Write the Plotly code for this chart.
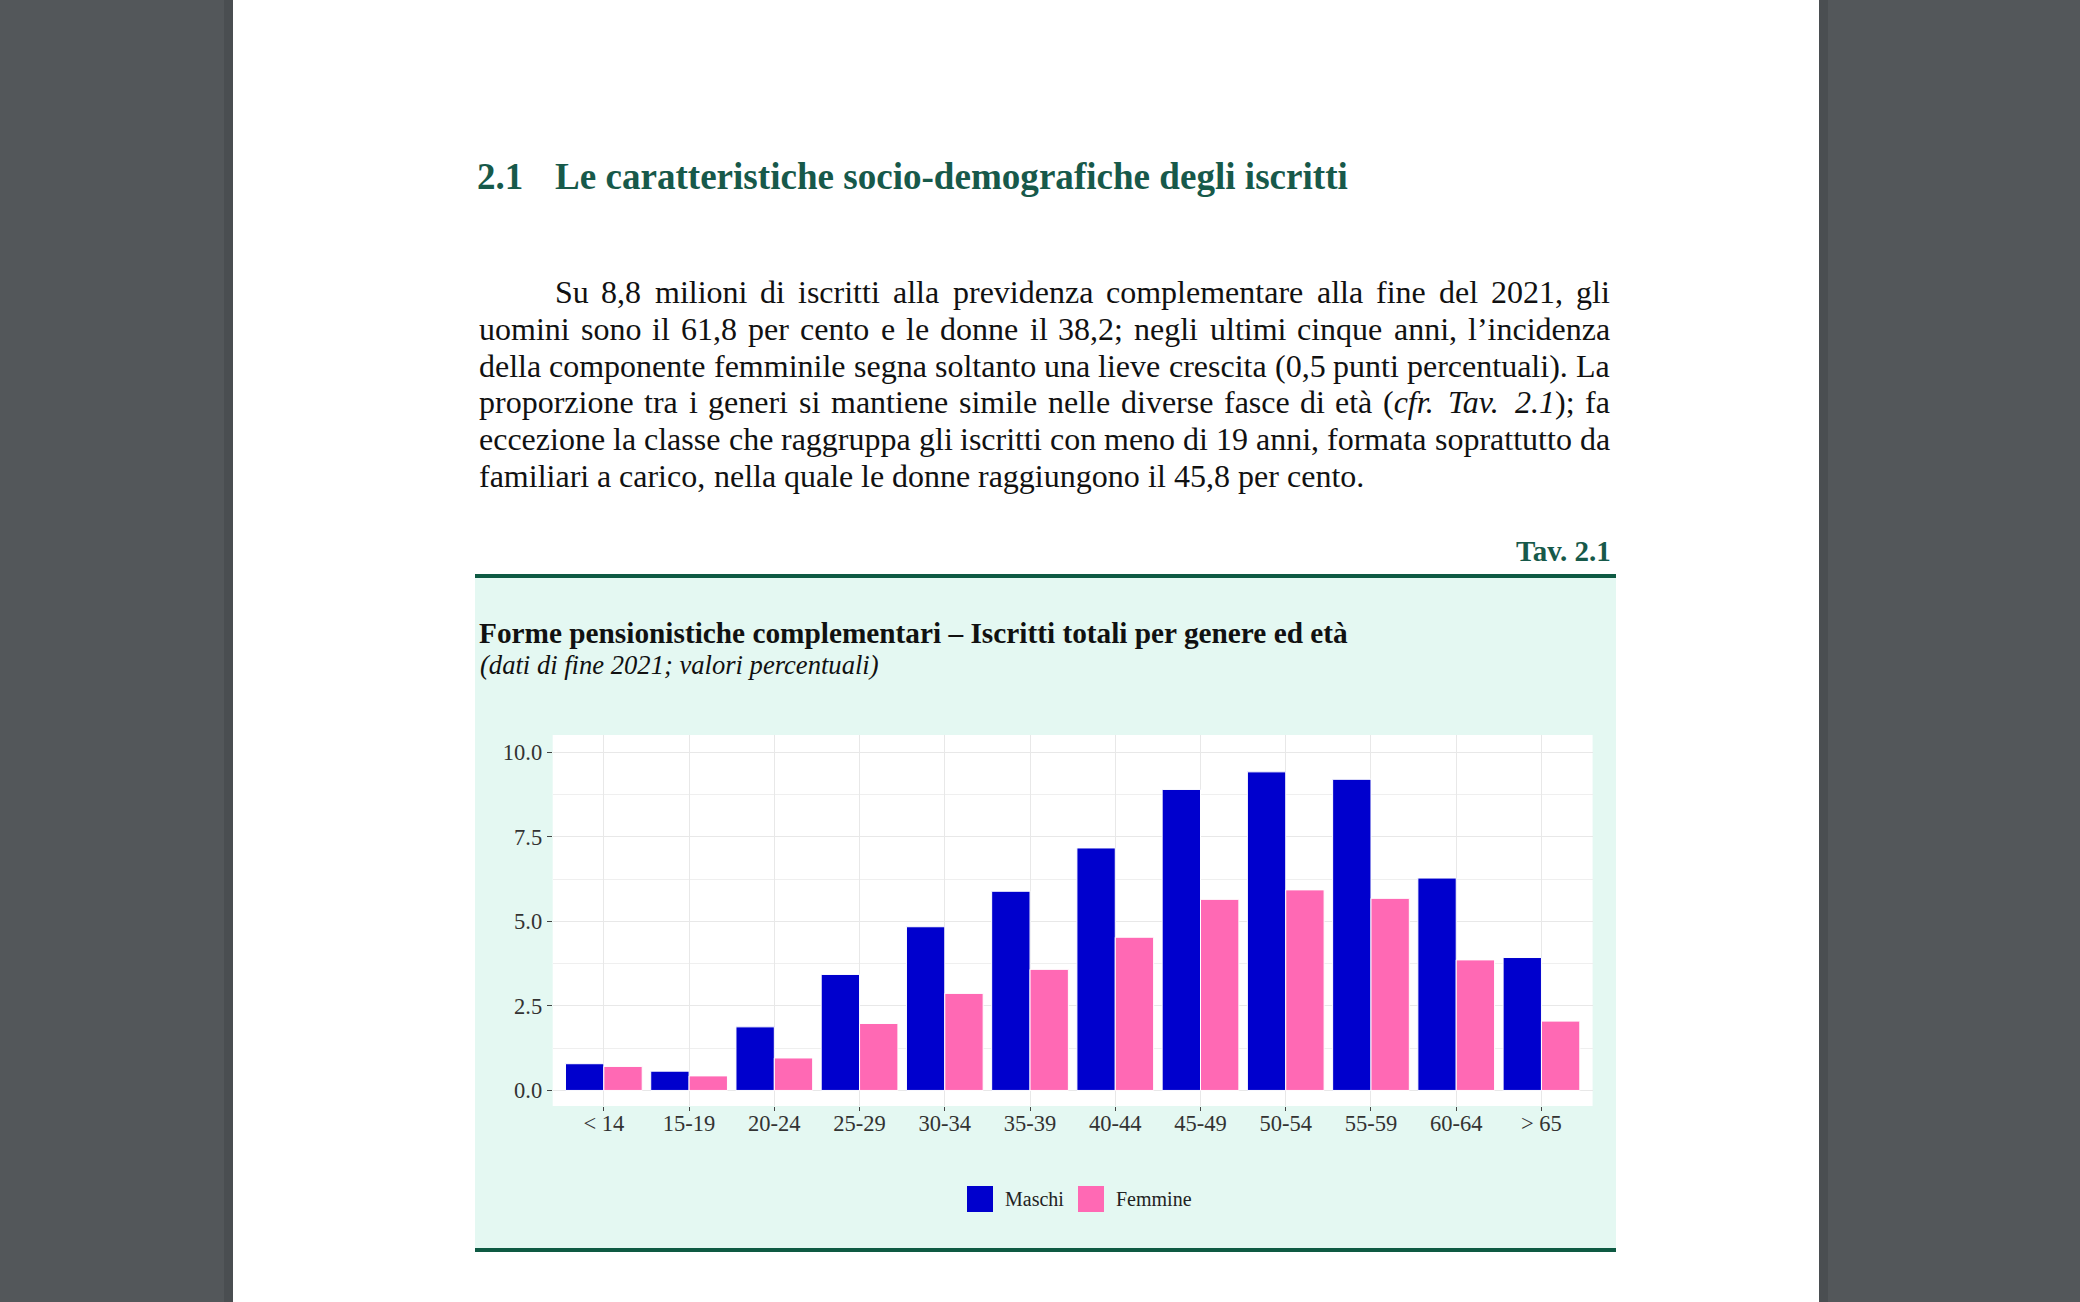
import plotly.graph_objects as go

# ---------------- data ----------------
categories = ["< 14", "15-19", "20-24", "25-29", "30-34", "35-39",
              "40-44", "45-49", "50-54", "55-59", "60-64", "> 65"]
maschi = [0.79, 0.57, 1.88, 3.43, 4.84, 5.89, 7.17, 8.90, 9.42, 9.20, 6.28, 3.93]
femmine = [0.71, 0.43, 0.96, 1.98, 2.87, 3.58, 4.53, 5.65, 5.93, 5.68, 3.86, 2.05]
series_names = ["Maschi", "Femmine"]
y_tick_vals = [0, 2.5, 5, 7.5, 10]
y_tick_text = ["0.0", "2.5", "5.0", "7.5", "10.0"]

heading_num = "2.1"
heading_text = "Le caratteristiche socio-demografiche degli iscritti"
paragraph_lines = [
    "Su 8,8 milioni di iscritti alla previdenza complementare alla fine del 2021, gli",
    "uomini sono il 61,8 per cento e le donne il 38,2; negli ultimi cinque anni, l’incidenza",
    "della componente femminile segna soltanto una lieve crescita (0,5 punti percentuali). La",
    "proporzione tra i generi si mantiene simile nelle diverse fasce di età (<i>cfr.</i> <i>Tav.</i> <i>2.1</i>); fa",
    "eccezione la classe che raggruppa gli iscritti con meno di 19 anni, formata soprattutto da",
    "familiari a carico, nella quale le donne raggiungono il 45,8 per cento.",
]
table_label = "Tav. 2.1"
chart_title = "Forme pensionistiche complementari – Iscritti totali per genere ed età"
chart_subtitle = "(dati di fine 2021; valori percentuali)"

# ---------------- styles ----------------
W, H = 2080, 1302
GRAY_BG = "#53575A"
DARK_GREEN = "#0E5A43"
HEAD_GREEN = "#17594A"
MINT = "#E4F8F2"
BLUE = "#0000CD"
PINK = "#FF69B4"
SERIF = "Liberation Serif"
TXT = "#111111"
AX_TXT = "#333333"


def X(p):
    return p / W


def Y(p):
    return 1 - p / H


# Times-compatible advance widths (per 1000 em)
REG = {" ": 250, "!": 333, "(": 333, ")": 333, ",": 250, "-": 333, ".": 250,
       ":": 278, ";": 278, "’": 333, "–": 500, "<": 564, ">": 564,
       "A": 722, "B": 667, "C": 667, "D": 722, "E": 611, "F": 556, "G": 722,
       "H": 722, "I": 333, "J": 389, "K": 722, "L": 611, "M": 889, "N": 722,
       "O": 722, "P": 556, "Q": 722, "R": 667, "S": 556, "T": 611, "U": 722,
       "V": 722, "W": 944, "X": 722, "Y": 722, "Z": 611,
       "a": 444, "b": 500, "c": 444, "d": 500, "e": 444, "f": 333, "g": 500,
       "h": 500, "i": 278, "j": 278, "k": 500, "l": 278, "m": 778, "n": 500,
       "o": 500, "p": 500, "q": 500, "r": 333, "s": 389, "t": 278, "u": 500,
       "v": 500, "w": 722, "x": 500, "y": 500, "z": 444,
       "à": 444, "è": 444, "é": 444, "ì": 278, "ò": 500, "ù": 500}
for d in "0123456789":
    REG[d] = 500
ITA = dict(REG)
ITA.update({"a": 500, "c": 444, "f": 278, "r": 389, "v": 444, "m": 722,
            "T": 556, ";": 333})


def text_width(s, size):
    w, italic, i = 0, False, 0
    while i < len(s):
        if s.startswith("<i>", i):
            italic = True
            i += 3
            continue
        if s.startswith("</i>", i):
            italic = False
            i += 4
            continue
        tab = ITA if italic else REG
        w += tab.get(s[i], 500)
        i += 1
    return w * size / 1000.0


fig = go.Figure()
fig.add_trace(go.Bar(x=categories, y=maschi, name=series_names[0],
                     marker=dict(color=BLUE, line=dict(color="white", width=1)),
                     showlegend=False))
fig.add_trace(go.Bar(x=categories, y=femmine, name=series_names[1],
                     marker=dict(color=PINK, line=dict(color="white", width=1)),
                     showlegend=False))

shapes = []
# page
shapes.append(dict(type="rect", xref="paper", yref="paper", x0=X(224), x1=X(233), y0=0, y1=1,
                   fillcolor="#4A4E51", line=dict(width=0), layer="below"))
shapes.append(dict(type="rect", xref="paper", yref="paper", x0=X(1819), x1=X(1828), y0=0, y1=1,
                   fillcolor="#4A4E51", line=dict(width=0), layer="below"))
shapes.append(dict(type="rect", xref="paper", yref="paper", x0=X(233), x1=X(1819), y0=0, y1=1,
                   fillcolor="white", line=dict(width=0), layer="below"))
# table box
shapes.append(dict(type="rect", xref="paper", yref="paper", x0=X(475), x1=X(1616), y0=Y(1248), y1=Y(578),
                   fillcolor=MINT, line=dict(width=0), layer="below"))
shapes.append(dict(type="rect", xref="paper", yref="paper", x0=X(475), x1=X(1616), y0=Y(578), y1=Y(574),
                   fillcolor=DARK_GREEN, line=dict(width=0), layer="below"))
shapes.append(dict(type="rect", xref="paper", yref="paper", x0=X(475), x1=X(1616), y0=Y(1252), y1=Y(1248),
                   fillcolor=DARK_GREEN, line=dict(width=0), layer="below"))
# plot panel
PX0, PX1, PY0, PY1 = 552.7, 1592.6, 735, 1106
shapes.append(dict(type="rect", xref="paper", yref="paper", x0=X(PX0), x1=X(PX1), y0=Y(PY1), y1=Y(PY0),
                   fillcolor="white", line=dict(width=0), layer="below"))
# legend keys
shapes.append(dict(type="rect", xref="paper", yref="paper", x0=X(967), x1=X(993), y0=Y(1212), y1=Y(1186),
                   fillcolor=BLUE, line=dict(width=0), layer="below"))
shapes.append(dict(type="rect", xref="paper", yref="paper", x0=X(1078), x1=X(1104), y0=Y(1212), y1=Y(1186),
                   fillcolor=PINK, line=dict(width=0), layer="below"))

ann = []
PAD = 2  # annotation box padding compensation


def add_text(x, y, text, size, color=TXT, xanchor="left", bold=False, italic=False):
    t = text
    if bold:
        t = "<b>" + t + "</b>"
    if italic:
        t = "<i>" + t + "</i>"
    xx = x - PAD if xanchor == "left" else x
    ann.append(dict(x=X(xx), y=Y(y), xref="paper", yref="paper", text=t, showarrow=False,
                    xanchor=xanchor, yanchor="middle",
                    font=dict(family=SERIF, size=size, color=color)))


# heading
add_text(477, 176, heading_num, 37, HEAD_GREEN, bold=True)
add_text(554.5, 176, heading_text, 37.1, HEAD_GREEN, bold=True)

# justified paragraph
FS = 32
LEFT, RIGHT, INDENT = 479, 1610, 554.5
line_y = [292, 329, 366, 402.5, 439, 476]
for li, line in enumerate(paragraph_lines):
    words = line.split(" ")
    x0 = INDENT if li == 0 else LEFT
    widths = [text_width(w, FS) for w in words]
    if li < len(paragraph_lines) - 1:
        gap = (RIGHT - x0 - sum(widths)) / (len(words) - 1)
    else:
        gap = 0.25 * FS
    xc = x0
    for w, wd in zip(words, widths):
        add_text(xc, line_y[li], w, FS, TXT)
        xc += wd + gap

add_text(1613, 550.5, table_label, 29, HEAD_GREEN, xanchor="right", bold=True)
add_text(479, 633, chart_title, 29.3, TXT, bold=True)
add_text(480, 665, chart_subtitle, 26.6, TXT, italic=True)

# legend labels
add_text(1005, 1199, series_names[0], 20, "#222222")
add_text(1116, 1199, series_names[1], 20, "#222222")

fig.update_layout(
    width=W, height=H,
    margin=dict(l=0, r=0, t=0, b=0),
    paper_bgcolor=GRAY_BG,
    plot_bgcolor="white",
    barmode="group", bargap=0.1, bargroupgap=0,
    showlegend=False,
    shapes=shapes,
    annotations=ann,
    xaxis=dict(domain=[X(PX0), X(PX1)], type="category", range=[-0.6, 11.6],
               showgrid=True, gridcolor="#E8E8E8", gridwidth=1.3,
               ticks="outside", ticklen=4, tickwidth=1, tickcolor="#444444",
               ticklabelstandoff=-7,
               tickfont=dict(family=SERIF, size=22.5, color=AX_TXT),
               zeroline=False, showline=False, fixedrange=True),
    yaxis=dict(domain=[Y(PY1), Y(PY0)], range=[-0.46, 10.51],
               tickvals=y_tick_vals, ticktext=y_tick_text,
               showgrid=True, gridcolor="#E8E8E8", gridwidth=1.3,
               minor=dict(dtick=1.25, tick0=0, showgrid=True, gridcolor="#EFEFEF", gridwidth=0.9),
               ticks="outside", ticklen=5, tickwidth=1, tickcolor="#444444",
               tickfont=dict(family=SERIF, size=22.5, color=AX_TXT),
               zeroline=False, showline=False, fixedrange=True),
)

fig.write_html("out.html", config={"displayModeBar": False},
               post_script="document.body.style.margin='0';document.body.style.overflow='hidden';")
